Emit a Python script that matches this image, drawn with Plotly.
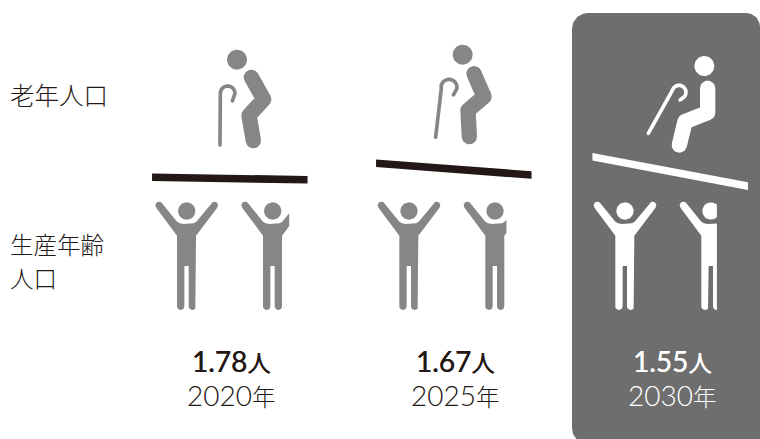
import math
import plotly.graph_objects as go

# Working-age people supporting one elderly person
years = ["2020", "2025", "2030"]
ratios = [1.78, 1.67, 1.55]
ratio_labels = ["1.78", "1.67", "1.55"]
beam_tilt_deg = [0.96, 4.3, 10.7]
row_label_elderly = "老年人口"
row_label_working = ["生産年齢", "人口"]
year_suffix = "年"
ratio_suffix = "人"

INK = "#231815"
FIGURE_GREY = "#868686"
PANEL_GREY = "#6e6e6e"
WHITE = "#ffffff"
FONT = "Noto Sans CJK JP"
NUMERAL_FONT = "Lato"

W, H = 760, 439
PERSON_SPAN = 61.6
PERSON_GAP = 86.0


def arc(cx, cy, r, a0, a1, n=14):
    return [(cx + r * math.cos(a0 + (a1 - a0) * i / n),
             cy + r * math.sin(a0 + (a1 - a0) * i / n)) for i in range(n + 1)]


def circle(cx, cy, r):
    return arc(cx, cy, r, 0, 2 * math.pi, 48)


def capsule(p, q, w):
    """Thick rounded segment from p to q, as a polygon."""
    a = math.atan2(q[1] - p[1], q[0] - p[0])
    r = w / 2
    return (arc(q[0], q[1], r, a - math.pi / 2, a + math.pi / 2) +
            arc(p[0], p[1], r, a + math.pi / 2, a + 3 * math.pi / 2))


def stroke(points, w):
    return [capsule(points[i], points[i + 1], w) for i in range(len(points) - 1)]


def clip_right(poly, xmax):
    """Cut a polygon at a vertical line, keeping what lies to its left."""
    out = []
    for i, p in enumerate(poly):
        q = poly[(i + 1) % len(poly)]
        if p[0] <= xmax:
            out.append(p)
        if (p[0] <= xmax) != (q[0] <= xmax):
            t = (xmax - p[0]) / (q[0] - p[0])
            out.append((xmax, p[1] + t * (q[1] - p[1])))
    return out


def to_xy(polys):
    xs, ys = [], []
    for poly in polys:
        if len(poly) < 3:
            continue
        xs += [p[0] for p in poly] + [poly[0][0], None]
        ys += [p[1] for p in poly] + [poly[0][1], None]
    return xs, ys


def add_fill(fig, polys, colour):
    xs, ys = to_xy(polys)
    fig.add_trace(go.Scatter(x=xs, y=ys, mode="lines", fill="toself",
                             fillcolor=colour, line=dict(width=0),
                             hoverinfo="skip", showlegend=False))


def person(cx, top):
    """Standing figure with raised arms; outline is on a 3x grid around cx=140."""
    outline = []
    outline += arc(57, 46, 11, math.radians(141), math.radians(321))
    outline += [(111, 95), (119, 100), (130, 102), (150, 102), (161, 100), (169, 95)]
    outline += arc(223, 46, 11, math.radians(219), math.radians(399))
    outline += [(168, 137)]
    outline += arc(157, 349, 11, 0, math.pi, 10)
    outline += [(146, 228), (133, 228)]
    outline += arc(122, 349, 11, 0, math.pi, 10)
    outline += [(111, 137)]
    body = [(cx + (x - 140) / 3, top + y / 3) for x, y in outline]
    head = circle(cx, top + 63 / 3, 26 / 3)
    return [body, head]


def senior(ox, oy, head, limbs, cane):
    """Elderly figure with a walking stick; coordinates are on a 3x grid."""
    def s(p):
        return (ox + p[0] / 3, oy + p[1] / 3)
    polys = [circle(*s(head), 30 / 3)]
    polys += stroke([s(p) for p in limbs], 46 / 3)
    polys += stroke([s(p) for p in cane], 11 / 3)
    return polys


def hook(cx, cy, r, a0, a1):
    return arc(cx, cy, r, math.radians(a0), math.radians(a1), 10)


SENIOR_POSES = [
    dict(ox=140, oy=40, head=(291, 59),
         limbs=[(334, 112), (371, 178), (327, 226), (340, 302)],
         cane=[(240, 315)] + hook(263, 160, 22, 180, 360) + [(277, 183)]),
    dict(ox=370, oy=30, head=(278, 74),
         limbs=[(312, 131), (342, 200), (294, 241), (298, 320)],
         cane=[(197, 322), (214, 175)] + hook(237, 172, 24, 190, 370) + [(250, 195)]),
    dict(ox=570, oy=10, head=(403, 168),
         limbs=[(413, 235), (413, 308), (345, 335), (328, 405)],
         cane=[(235, 370), (305, 245)] + hook(327, 247, 21, 200, 400) + [(330, 270)]),
]

# Figure column centres and beam midpoints for each year
person_cx = [186.7, 409.0, 625.0]
beam_mid = [(229.8, 178.5), (453.8, 169.1), (670.2, 171.4)]
beam_len = 155.5
beam_thick = 7.6
label_cx = [231, 455, 672]

fig = go.Figure()

# Highlighted panel behind the latest year, running off the right and bottom edges
panel = (arc(588, 29, 16, math.pi, 1.5 * math.pi) +
         arc(746, 27, 14, 1.5 * math.pi, 2 * math.pi) +
         [(760, 444), (588, 444)] +
         arc(588, 428, 16, math.pi / 2, math.pi))
add_fill(fig, [panel], PANEL_GREY)

for i, ratio in enumerate(ratios):
    fg = WHITE if i == 2 else FIGURE_GREY
    beam_fg = WHITE if i == 2 else INK

    # Second figure is cut off according to the fractional part of the ratio
    whole = person(person_cx[i], 190)
    second = person(person_cx[i] + PERSON_GAP, 190)
    left_edge = person_cx[i] + PERSON_GAP - PERSON_SPAN / 2
    cut = left_edge + 11.4 + 46 * (ratio - 1)
    second = [clip_right(p, cut) for p in second]
    add_fill(fig, whole + second, fg)

    add_fill(fig, senior(**SENIOR_POSES[i]), fg)

    # Balance beam, tilted further as the ratio falls
    a = math.radians(beam_tilt_deg[i])
    ux, uy = math.cos(a), math.sin(a)
    mx, my = beam_mid[i]
    hl, ht = beam_len / 2 / ux, beam_thick / 2
    beam = [(mx - hl * ux, my - hl * uy - ht), (mx + hl * ux, my + hl * uy - ht),
            (mx + hl * ux, my + hl * uy + ht), (mx - hl * ux, my - hl * uy + ht)]
    add_fill(fig, [beam], beam_fg)


def label(x, y, text, colour, anchor="center", size=26):
    fig.add_annotation(x=x, y=y, text=text, showarrow=False, xanchor=anchor, yanchor="middle",
                       align=anchor, xref="x", yref="y", borderpad=0,
                       font=dict(family=FONT, size=size, color=colour, weight=300))


def ratio_line(number, suffix, colour):
    # Regular weight thickened slightly to give a medium-looking line
    style = f"font-weight:400;text-shadow:0.45px 0 0 {colour}"
    return (f'<span style="font-family:{NUMERAL_FONT};font-size:28px;{style}">{number}</span>'
            f'<span style="font-size:23.5px;{style}">{suffix}</span>')


def year_line(number, suffix):
    return (f'<span style="font-family:{NUMERAL_FONT};font-size:28px">{number}</span>'
            f'<span style="font-size:23.5px">{suffix}</span>')


for i in range(3):
    colour = WHITE if i == 2 else INK
    text = ratio_line(ratio_labels[i], ratio_suffix, colour) + "<br>" + year_line(years[i], year_suffix)
    label(label_cx[i], 378, text, colour)

label(9, 94, f'<span style="font-size:24.5px">{row_label_elderly}</span>', INK, anchor="left")
label(9, 261, "<br>".join(f'<span style="font-size:23.5px">{t}</span>' for t in row_label_working),
      INK, anchor="left")

fig.update_layout(
    width=W, height=H, autosize=False,
    margin=dict(l=0, r=0, t=0, b=0),
    paper_bgcolor=WHITE, plot_bgcolor=WHITE,
    xaxis=dict(range=[0, W], visible=False, fixedrange=True),
    yaxis=dict(range=[H, 0], visible=False, fixedrange=True),
    showlegend=False,
)

fig.write_html("out.html", config={"displayModeBar": False})
